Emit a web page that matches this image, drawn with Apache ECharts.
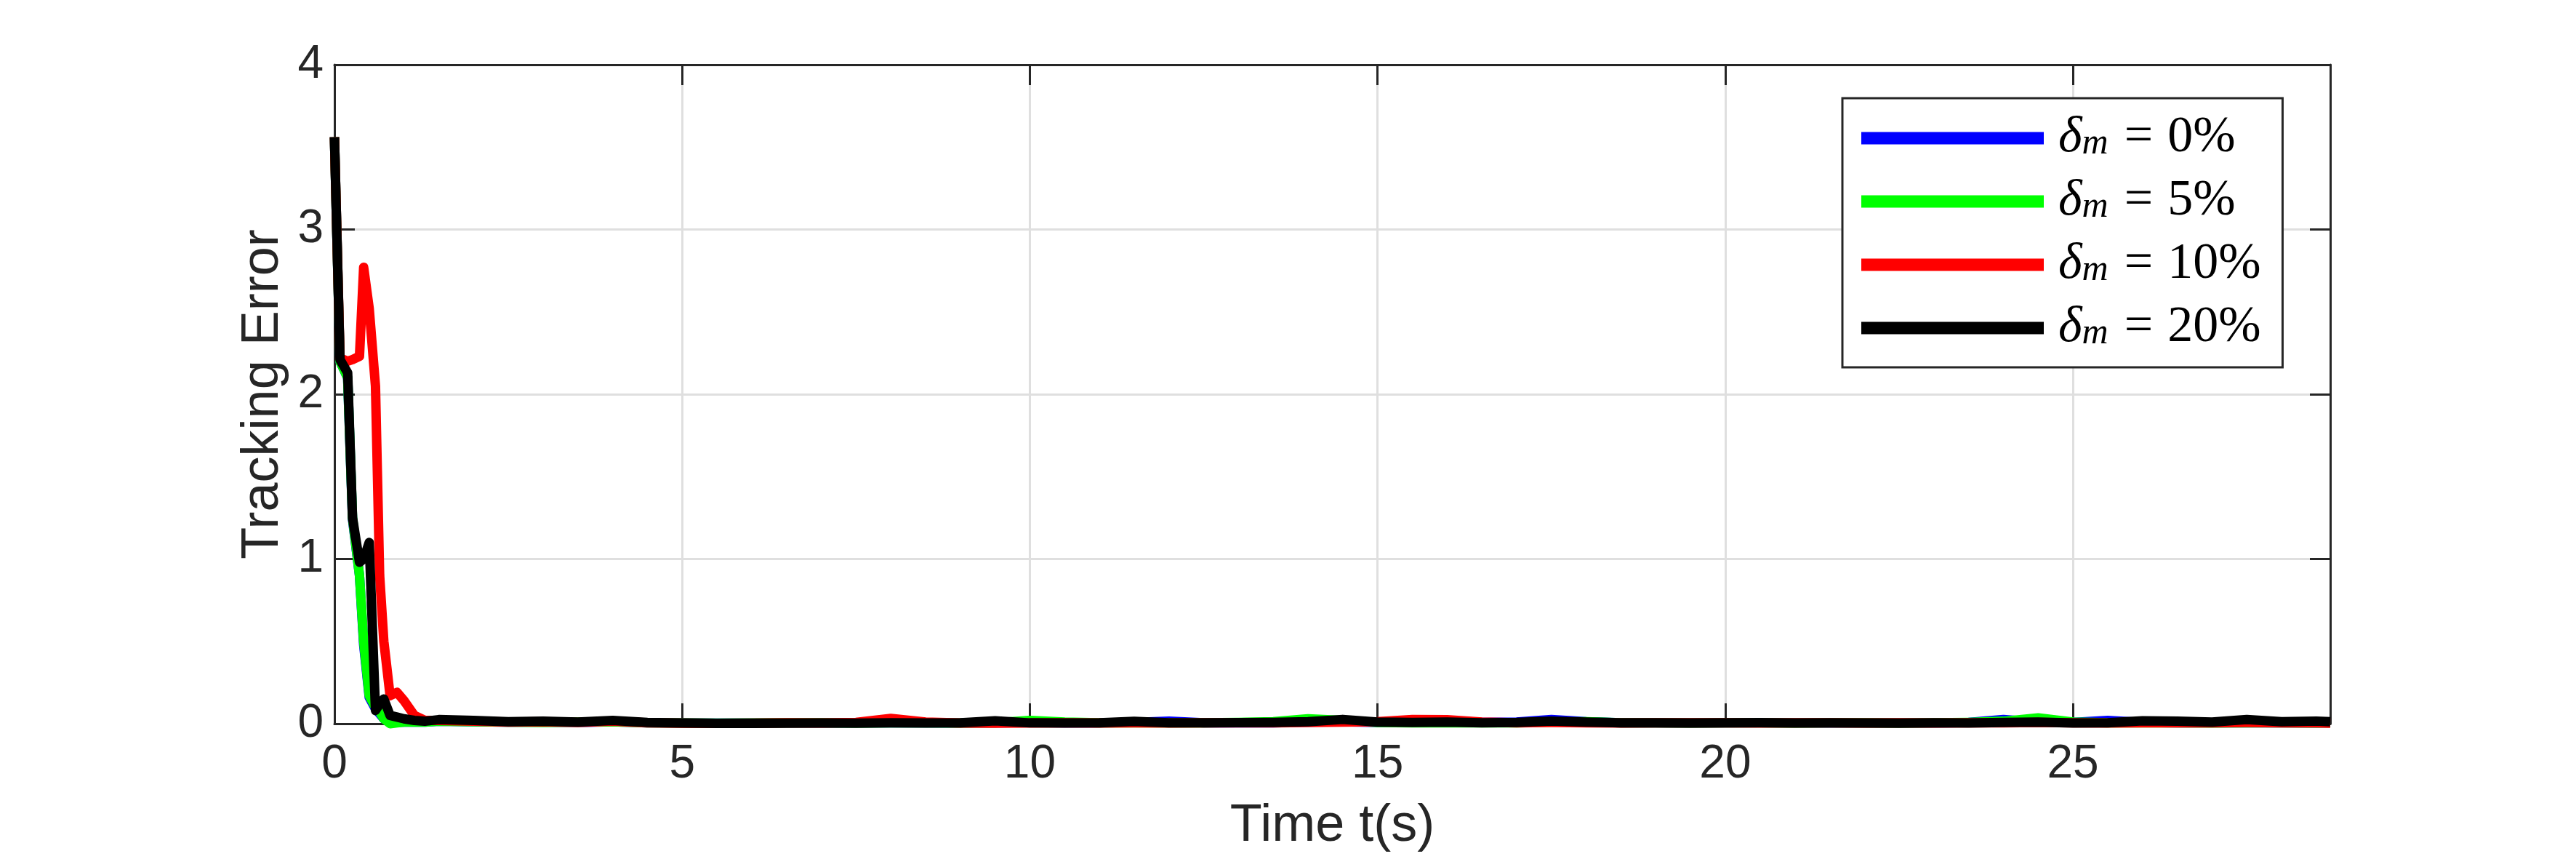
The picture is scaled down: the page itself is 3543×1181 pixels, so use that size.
<!DOCTYPE html>
<html>
<head>
<meta charset="utf-8">
<script src="https://cdn.jsdelivr.net/npm/echarts@6/dist/echarts.min.js"></script>
<style>
  html, body { margin: 0; padding: 0; background: #fff; }
  #main { width: 3543px; height: 1181px; }
</style>
</head>
<body>
<div id="main"></div>
<script>
// time samples (s): dense during the transient, every 0.5 s afterwards
var time = [0, 0.08, 0.19, 0.26, 0.36, 0.42, 0.50, 0.59, 0.65, 0.71, 0.80, 0.90, 1.0, 1.15, 1.3,
    1.5, 2.0, 2.5, 3.0, 3.5, 4.0, 4.5, 5.0, 5.5, 6.0, 6.5, 7.0, 7.5, 8.0, 8.5, 9.0, 9.5, 10.0,
    10.5, 11.0, 11.5, 12.0, 12.5, 13.0, 13.5, 14.0, 14.5, 15.0, 15.5, 16.0, 16.5, 17.0, 17.5,
    18.0, 18.5, 19.0, 19.5, 20.0, 20.5, 21.0, 21.5, 22.0, 22.5, 23.0, 23.5, 24.0, 24.5, 25.0,
    25.5, 26.0, 26.5, 27.0, 27.5, 28.0, 28.5, 28.7];

// tracking error for each mass uncertainty
var err0 = [3.56, 2.20, 2.10, 1.24, 0.90, 0.48, 0.16, 0.09, 0.06, 0.03, 0.01, 0.01, 0.01, 0.01, 0.01,
    0.015, 0.012, 0.01, 0.01, 0.008, 0.012, 0.006, 0.004, 0.003, 0.004,
    0.005, 0.004, 0.005, 0.006, 0.005, 0.004, 0.006, 0.008, 0.006, 0.005,
    0.008, 0.015, 0.006, 0.005, 0.006, 0.01, 0.012, 0.008, 0.01, 0.02,
    0.008, 0.01, 0.025, 0.012, 0.006, 0.005, 0.004, 0.005, 0.006, 0.005,
    0.004, 0.005, 0.006, 0.004, 0.008, 0.025, 0.01, 0.008, 0.02, 0.008,
    0.006, 0.005, 0.006, 0.005, 0.004, 0.005];
var err5 = [3.56, 2.20, 2.10, 1.25, 0.90, 0.50, 0.17, 0.10, 0.07, 0.03, 0.0, 0.005, 0.01, 0.01, 0.01,
    0.015, 0.012, 0.01, 0.008, 0.01, 0.012, 0.006, 0.004, 0.003, 0.004,
    0.006, 0.005, 0.004, 0.006, 0.005, 0.004, 0.006, 0.02, 0.01, 0.005,
    0.006, 0.005, 0.006, 0.008, 0.012, 0.03, 0.02, 0.008, 0.006, 0.005,
    0.006, 0.005, 0.01, 0.012, 0.006, 0.005, 0.004, 0.005, 0.006, 0.004,
    0.005, 0.006, 0.004, 0.005, 0.008, 0.015, 0.035, 0.01, 0.005, 0.006,
    0.005, 0.004, 0.006, 0.005, 0.004, 0.005];
var err10 = [3.56, 2.22, 2.20, 2.21, 2.23, 2.77, 2.52, 2.05, 0.90, 0.50, 0.17, 0.19, 0.14, 0.05, 0.02,
    0.02, 0.015, 0.01, 0.012, 0.008, 0.015, 0.006, 0.003, 0.002, 0.003,
    0.005, 0.004, 0.008, 0.032, 0.01, 0.004, 0.003, 0.004, 0.005, 0.004,
    0.006, 0.004, 0.006, 0.005, 0.006, 0.008, 0.01, 0.012, 0.025, 0.024,
    0.01, 0.006, 0.008, 0.006, 0.004, 0.005, 0.006, 0.005, 0.004, 0.006,
    0.005, 0.004, 0.006, 0.004, 0.005, 0.006, 0.008, 0.005, 0.004, 0.006,
    0.005, 0.006, 0.008, 0.006, 0.005, 0.003];
var err20 = [3.56, 2.21, 2.13, 1.25, 0.98, 1.00, 1.10, 0.08, 0.12, 0.15, 0.05, 0.04, 0.03, 0.02, 0.015,
    0.025, 0.02, 0.012, 0.015, 0.01, 0.02, 0.008, 0.004, 0.002, 0.002,
    0.003, 0.004, 0.003, 0.005, 0.004, 0.006, 0.018, 0.005, 0.004, 0.006,
    0.014, 0.006, 0.005, 0.007, 0.008, 0.012, 0.026, 0.01, 0.008, 0.01,
    0.006, 0.008, 0.016, 0.01, 0.005, 0.006, 0.004, 0.006, 0.007, 0.004,
    0.006, 0.004, 0.003, 0.005, 0.004, 0.008, 0.01, 0.004, 0.006, 0.018,
    0.015, 0.01, 0.025, 0.012, 0.016, 0.012];

var seriesNames = ['0%', '5%', '10%', '20%'];
var seriesValues = [err0, err5, err10, err20];
var seriesColors = ['#0000ff', '#00ff00', '#ff0000', '#000000'];

var axisColor = '#262626';
var labelFont = 'Liberation Sans, Arial, Helvetica, sans-serif';

var myChart = echarts.init(document.getElementById('main'), null, { renderer: 'canvas' });

var pairs = function(values) {
    return time.map(function(t, i) { return [t, values[i]]; });
};

var series = seriesNames.map(function(name, k) {
    return {
        name: name,
        type: 'line',
        data: pairs(seriesValues[k]),
        showSymbol: false,
        clip: false,
        color: seriesColors[k],
        lineStyle: { width: 13, color: seriesColors[k], join: 'round' },
        xAxisIndex: 0,
        yAxisIndex: 0
    };
});

var boxAxis = function(extra) {
    return Object.assign({
        type: 'value',
        axisLine: { show: true, onZero: false, lineStyle: { color: axisColor, width: 3 } },
        axisTick: { show: true, inside: true, length: 28, lineStyle: { color: axisColor, width: 3 } },
        axisLabel: { show: false },
        splitLine: { show: false }
    }, extra);
};

option = {
    backgroundColor: '#ffffff',
    animation: false,
    grid: { left: 460, right: 338, top: 89, bottom: 186, containLabel: false },
    legend: {
        orient: 'vertical',
        left: 2534,
        top: 135,
        padding: [20, 30, 19, 26],
        itemGap: 17,
        itemWidth: 251,
        itemHeight: 17,
        icon: 'rect',
        backgroundColor: '#ffffff',
        borderColor: axisColor,
        borderWidth: 3,
        borderRadius: 0,
        data: seriesNames,
        formatter: function(name) {
            return '{d|δ}{m|m}{q|=}{e|' + name + '}';
        },
        textStyle: {
            color: '#000',
            rich: {
                d: { fontFamily: 'Liberation Serif', fontStyle: 'italic', fontSize: 70, lineHeight: 66, padding: [0, 0, 0, 15], color: '#000' },
                m: { fontFamily: 'Liberation Serif', fontStyle: 'italic', fontSize: 50, lineHeight: 32, verticalAlign: 'bottom', color: '#000' },
                q: { fontFamily: 'Liberation Serif', fontSize: 70, lineHeight: 66, padding: [0, 20, 0, 22], color: '#000' },
                e: { fontFamily: 'Liberation Serif', fontSize: 70, lineHeight: 66, color: '#000' }
            }
        }
    },
    xAxis: [
        boxAxis({
            min: 0, max: 28.7, interval: 5,
            position: 'bottom',
            name: 'Time t(s)',
            nameLocation: 'middle',
            nameGap: 105,
            nameTextStyle: { fontFamily: labelFont, fontSize: 72, color: axisColor },
            axisLabel: { show: true, showMaxLabel: false, margin: 24, fontFamily: labelFont, fontSize: 64, color: axisColor },
            splitLine: { show: true, lineStyle: { color: '#dfdfdf', width: 3 } }
        }),
        boxAxis({ min: 0, max: 28.7, interval: 5, position: 'top' })
    ],
    yAxis: [
        boxAxis({
            min: 0, max: 4, interval: 1,
            position: 'left',
            name: 'Tracking Error',
            nameLocation: 'middle',
            nameRotate: 90,
            nameGap: 60,
            nameTextStyle: { fontFamily: labelFont, fontSize: 72, color: axisColor },
            axisLabel: { show: true, margin: 15, fontFamily: labelFont, fontSize: 64, color: axisColor },
            splitLine: { show: true, lineStyle: { color: '#dfdfdf', width: 3 } }
        }),
        boxAxis({ min: 0, max: 4, interval: 1, position: 'right' })
    ],
    series: series
};

myChart.setOption(option);
</script>
</body>
</html>
